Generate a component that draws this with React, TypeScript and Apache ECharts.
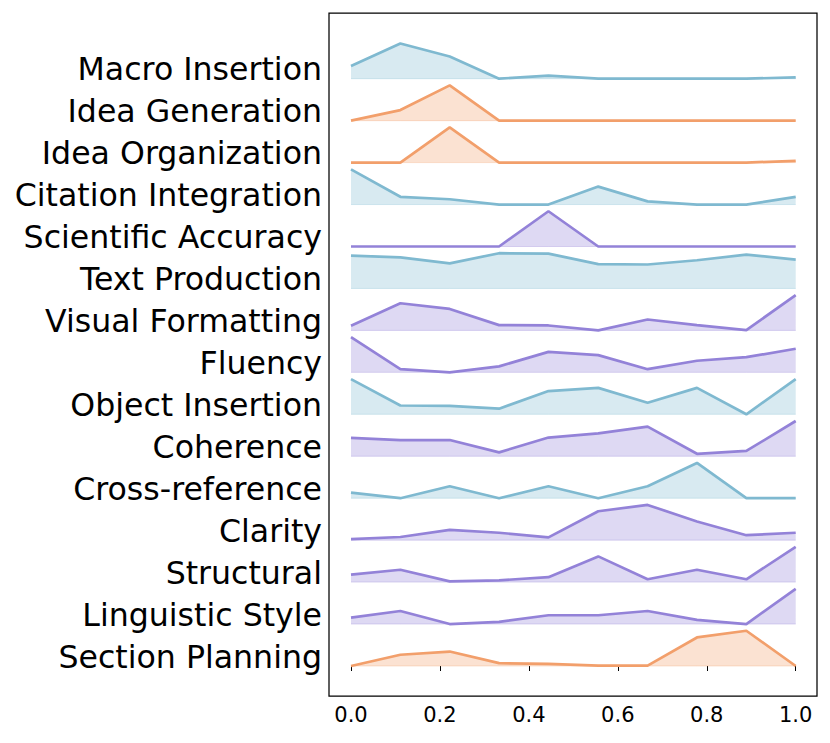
import React, { useEffect, useRef } from "react";
import * as echarts from "echarts";

// Row labels, top to bottom
const categories = [
  "Macro Insertion",
  "Idea Generation",
  "Idea Organization",
  "Citation Integration",
  "Scientific Accuracy",
  "Text Production",
  "Visual Formatting",
  "Fluency",
  "Object Insertion",
  "Coherence",
  "Cross-reference",
  "Clarity",
  "Structural",
  "Linguistic Style",
  "Section Planning",
];

const xValues = [0, 0.111, 0.222, 0.333, 0.444, 0.556, 0.667, 0.778, 0.889, 1.0];

// Normalised densities (each row peaks at 1)
const macroInsertion = [0.36, 1, 0.63, 0, 0.09, 0, 0, 0, 0, 0.04];
const ideaGeneration = [0, 0.3, 1, 0, 0, 0, 0, 0, 0, 0];
const ideaOrganization = [0, 0, 1, 0, 0, 0, 0, 0, 0, 0.05];
const citationIntegration = [1, 0.22, 0.15, 0, 0, 0.51, 0.09, 0, 0, 0.22];
const scientificAccuracy = [0, 0, 0, 0, 1, 0, 0, 0, 0, 0];
const textProduction = [0.93, 0.88, 0.71, 1, 0.99, 0.69, 0.68, 0.8, 0.96, 0.82];
const visualFormatting = [0.13, 0.77, 0.61, 0.15, 0.14, 0, 0.31, 0.15, 0.01, 1];
const fluency = [1, 0.09, 0, 0.17, 0.58, 0.49, 0.09, 0.33, 0.43, 0.67];
const objectInsertion = [1, 0.25, 0.24, 0.16, 0.66, 0.75, 0.33, 0.75, 0, 1];
const coherence = [0.52, 0.46, 0.46, 0.11, 0.53, 0.65, 0.84, 0.07, 0.15, 1];
const crossReference = [0.16, 0, 0.34, 0, 0.34, 0, 0.34, 1, 0, 0];
const clarity = [0.03, 0.09, 0.29, 0.21, 0.08, 0.82, 1, 0.53, 0.14, 0.21];
const structural = [0.21, 0.35, 0.02, 0.05, 0.14, 0.73, 0.08, 0.35, 0.08, 1];
const linguisticStyle = [0.18, 0.37, 0, 0.06, 0.25, 0.25, 0.37, 0.12, 0, 1];
const sectionPlanning = [0, 0.32, 0.41, 0.08, 0.06, 0.01, 0.01, 0.81, 1, 0];

const rowValues = [
  macroInsertion,
  ideaGeneration,
  ideaOrganization,
  citationIntegration,
  scientificAccuracy,
  textProduction,
  visualFormatting,
  fluency,
  objectInsertion,
  coherence,
  crossReference,
  clarity,
  structural,
  linguisticStyle,
  sectionPlanning,
];

const rowGroups = [
  "blue", "orange", "orange", "blue", "purple", "blue", "purple", "purple",
  "blue", "purple", "blue", "purple", "purple", "purple", "orange",
];

const palette: Record<string, string> = {
  blue: "#7FB9D0",
  orange: "#F29F6B",
  purple: "#9382D8",
};

const PEAK = 0.84; // ridge height relative to row spacing
const Y_MIN = -0.28;
const Y_MAX = 15.72;

export default function App() {
  const ref = useRef<HTMLDivElement>(null);

  useEffect(() => {
    if (!ref.current) return;
    const chart = echarts.init(ref.current, undefined, { renderer: "svg" });
    const n = categories.length;

    const series: any[] = [];
    rowValues.forEach((vals, idx) => {
      const k = n - 1 - idx;
      const color = palette[rowGroups[idx]];
      series.push({
        type: "line",
        xAxisIndex: 0,
        yAxisIndex: 0,
        data: xValues.map((x) => [x, k]),
        symbol: "none",
        silent: true,
        lineStyle: { color, width: 1, opacity: 0.3 },
        z: 2,
      });
      series.push({
        type: "line",
        xAxisIndex: 0,
        yAxisIndex: 0,
        data: xValues.map((x, j) => [x, k + vals[j] * PEAK]),
        symbol: "none",
        silent: true,
        lineStyle: { color, width: 2.7 },
        areaStyle: { color, opacity: 0.3, origin: k },
        z: 3,
      });
    });

    const labelCats = [...categories].reverse().concat([""]);

    chart.setOption({
      animation: false,
      backgroundColor: "#ffffff",
      grid: [
        { left: 351, top: 6.55, width: 444.7, height: 671.2, show: false },
        {
          left: 329,
          top: 13,
          width: 488,
          height: 683,
          show: true,
          borderColor: "#000000",
          borderWidth: 1.25,
          backgroundColor: "transparent",
          z: 5,
        },
      ],
      xAxis: [
        {
          type: "value",
          gridIndex: 0,
          min: 0,
          max: 1,
          interval: 0.2,
          offset: 18.25,
          axisLine: { show: false },
          axisTick: { show: true, length: 5, lineStyle: { color: "#000", width: 1 } },
          axisLabel: {
            formatter: (v: number) => v.toFixed(1),
            fontSize: 21,
            color: "#000",
            fontFamily: "DejaVu Sans",
            margin: 8,
          },
          splitLine: { show: false },
        },
        { type: "value", gridIndex: 1, show: false, min: 0, max: 1 },
      ],
      yAxis: [
        {
          type: "value",
          gridIndex: 0,
          min: Y_MIN,
          max: Y_MAX,
          show: false,
          splitLine: { show: false },
        },
        {
          type: "category",
          gridIndex: 0,
          position: "left",
          data: labelCats,
          boundaryGap: true,
          axisLine: { show: false },
          axisTick: { show: false },
          splitLine: { show: false },
          axisLabel: {
            interval: 0,
            fontSize: 31.6,
            color: "#000",
            fontFamily: "DejaVu Sans",
            margin: 29,
          },
        },
        { type: "value", gridIndex: 1, show: false, min: 0, max: 1 },
      ],
      series,
    });

    return () => chart.dispose();
  }, []);

  return (
    <div
      ref={ref}
      style={{ position: "fixed", left: 0, top: 0, width: 830, height: 743 }}
    />
  );
}
